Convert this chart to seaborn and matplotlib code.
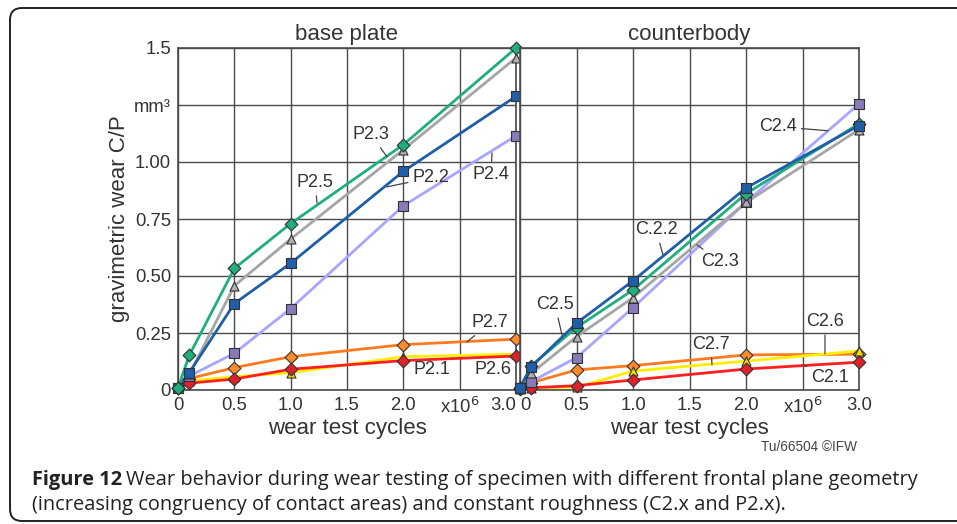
import numpy as np
import pandas as pd
import matplotlib
matplotlib.use("Agg")
import matplotlib.pyplot as plt
from matplotlib.patches import FancyBboxPatch
import seaborn as sns

# ---------------- data ----------------
cycles = [0, 0.1, 0.5, 1.0, 2.0, 3.0]   # x10^6

base_names = ["P2.6", "P2.7", "P2.1", "P2.4", "P2.3", "P2.2", "P2.5"]
base_vals = {
    "P2.1": [0.01, 0.030, 0.048, 0.091, 0.129, 0.149],
    "P2.2": [0.01, 0.076, 0.379, 0.556, 0.959, 1.288],
    "P2.3": [0.01, 0.068, 0.457, 0.662, 1.054, 1.457],
    "P2.4": [0.01, 0.061, 0.161, 0.357, 0.808, 1.115],
    "P2.5": [0.01, 0.152, 0.533, 0.730, 1.076, 1.500],
    "P2.6": [0.01, 0.040, 0.058, 0.076, 0.146, 0.157],
    "P2.7": [0.01, 0.050, 0.098, 0.146, 0.199, 0.223],
}
counter_names = ["C2.7", "C2.6", "C2.1", "C2.4", "C2.3", "C2.5", "C2.2"]
counter_vals = {
    "C2.1": [0.005, 0.010, 0.019, 0.044, 0.092, 0.122],
    "C2.2": [0.010, 0.102, 0.293, 0.479, 0.886, 1.160],
    "C2.3": [0.010, 0.073, 0.234, 0.405, 0.823, 1.142],
    "C2.4": [0.010, 0.037, 0.142, 0.361, 0.823, 1.255],
    "C2.5": [0.010, 0.107, 0.274, 0.439, 0.861, 1.168],
    "C2.6": [0.005, 0.010, 0.012, 0.083, 0.127, 0.171],
    "C2.7": [0.010, 0.032, 0.088, 0.107, 0.154, 0.157],
}

x_ticks = [0, 0.5, 1.0, 1.5, 2.0, 2.5, 3.0]
x_ticklabels = ["0", "0.5", "1.0", "1.5", "2.0", "x10$^6$", "3.0"]
y_ticks = [0, 0.25, 0.5, 0.75, 1.0, 1.25, 1.5]
y_ticklabels = ["0", "0.25", "0.50", "0.75", "1.00", "mm³", "1.5"]

# style per series suffix
line_col = {"1": "#ff1f1f", "2": "#1f5ea8", "3": "#a5a5a5", "4": "#a6a6ff",
            "5": "#1fae7c", "6": "#ffee00", "7": "#ff7a1f"}
mark_col = {"1": "#e0202a", "2": "#1f5ea8", "3": "#b0b0b0", "4": "#8a7ab8",
            "5": "#1fae7c", "6": "#f2e000", "7": "#ff8a2a"}
mark_shape = {"1": "D", "2": "s", "3": "^", "4": "s", "5": "D", "6": "^", "7": "D"}

base_ann = [  # label, text (x,y), target (x,y)
    ("P2.3", (1.713, 1.119), (1.855, 1.023)),
    ("P2.5", (1.216, 0.909), (1.234, 0.821)),
    ("P2.2", (2.245, 0.931), (1.855, 0.891)),
    ("P2.4", (2.778, 0.944), (2.787, 1.040)),
    ("P2.7", (2.769, 0.294), (2.565, 0.211)),
    ("P2.1", (2.254, 0.088), (2.441, 0.140)),
    ("P2.6", (2.796, 0.088), (2.964, 0.149)),
]
counter_ann = [
    ("C2.4", (2.283, 1.155), (2.726, 1.137)),
    ("C.2.2", (1.204, 0.702), (1.265, 0.593)),
    ("C2.3", (1.770, 0.562), (1.566, 0.637)),
    ("C2.5", (0.310, 0.373), (0.372, 0.241)),
    ("C2.7", (1.690, 0.198), (1.699, 0.110)),
    ("C2.6", (2.699, 0.299), (2.699, 0.158)),
    ("C2.1", (2.743, 0.057), (2.504, 0.110)),
]

# ---------------- figure ----------------
sns.set_theme(style="white")
plt.rcParams["font.family"] = ["Liberation Sans", "DejaVu Sans"]
TXT = "#333333"

fig = plt.figure(figsize=(9.57, 5.24), dpi=100)
W, H = 957, 524
def axrect(x0, x1, ytop, ybot):
    return [x0 / W, 1 - ybot / H, (x1 - x0) / W, (ybot - ytop) / H]

ax1 = fig.add_axes(axrect(178, 516, 48, 390))
ax2 = fig.add_axes(axrect(520, 859, 48, 390))


def draw_panel(ax, names, vals, title, ann):
    df = pd.DataFrame([(n, c, v) for n in names for c, v in zip(cycles, vals[n])],
                      columns=["series", "cycles", "wear"])
    pal_l = {n: line_col[n[-1]] for n in names}
    pal_m = {n: mark_col[n[-1]] for n in names}
    mk = {n: mark_shape[n[-1]] for n in names}
    for n in names:
        sub = df[df.series == n]
        sns.lineplot(data=sub, x="cycles", y="wear", color=pal_l[n], lw=2.0,
                     ax=ax, legend=False, clip_on=False, zorder=3)
        sns.scatterplot(data=sub, x="cycles", y="wear", color=pal_m[n],
                        marker=mk[n], s=42, edgecolor="#333333", linewidth=0.8,
                        ax=ax, legend=False, clip_on=False, zorder=4)
    ax.set_xlim(0, 3.0)
    ax.set_ylim(0, 1.5)
    ax.set_xticks(x_ticks)
    ax.set_xticklabels(x_ticklabels, fontsize=13.3, color=TXT)
    ax.set_yticks(y_ticks)
    ax.grid(True, color="#4a4a4a", lw=1.0, zorder=0)
    ax.set_axisbelow(True)
    for s in ax.spines.values():
        s.set_color("#4a4a4a")
        s.set_linewidth(1.2)
    ax.tick_params(axis="both", length=0, pad=5)
    ax.set_title(title, fontsize=16, color=TXT, pad=6)
    ax.set_xlabel("wear test cycles", fontsize=16, color=TXT, labelpad=1)
    for lab, xt, xy in ann:
        ax.annotate(lab, xy=xy, xytext=xt, ha="center", va="center",
                    fontsize=13, color=TXT, zorder=6,
                    arrowprops=dict(arrowstyle="-", color="#444444", lw=0.9,
                                    shrinkA=1, shrinkB=0))


draw_panel(ax1, base_names, base_vals, "base plate", base_ann)
draw_panel(ax2, counter_names, counter_vals, "counterbody", counter_ann)

ax1.set_yticklabels(y_ticklabels, fontsize=13.3, color=TXT)
ax1.set_ylabel("gravimetric wear C/P", fontsize=16, color=TXT, labelpad=3)
ax2.set_yticklabels([])
ax2.set_ylabel("")
ax1.get_xticklabels()[-1].set_ha("right")
ax2.get_xticklabels()[0].set_ha("left")

fig.text(857 / W, 1 - 447 / H, "Tu/66504 \u00a9IFW", ha="right", va="center",
         fontsize=9.8, color="#444444")

# caption
cap_font = ["Open Sans", "DejaVu Sans"]
CAP = 14.45
t = fig.text(32 / W, 1 - 480 / H, "Figure 12", ha="left", va="center",
             fontsize=CAP, fontweight="bold", family=cap_font, color="#222222")
fig.canvas.draw()
bb = t.get_window_extent()
fig.text((bb.x1 + 4) / W, 1 - 480 / H,
         "Wear behavior during wear testing of specimen with different frontal plane geometry",
         ha="left", va="center", fontsize=CAP, family=cap_font, color="#222222")
fig.text(32 / W, 1 - 505 / H,
         "(increasing congruency of contact areas) and constant roughness (C2.x and P2.x).",
         ha="left", va="center", fontsize=CAP, family=cap_font, color="#222222")

frame = FancyBboxPatch((10, 3), 970, 513, boxstyle="round,pad=0,rounding_size=12",
                       transform=None, fill=False, edgecolor="#222222", lw=1.4)
fig.patches.append(frame)

fig.savefig("out.png", dpi=100)
